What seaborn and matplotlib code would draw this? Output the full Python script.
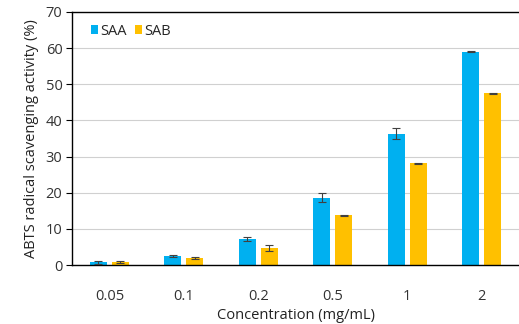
import matplotlib
matplotlib.use("Agg")
import matplotlib.pyplot as plt
import seaborn as sns
import pandas as pd
import numpy as np

concentrations = ["0.05", "0.1", "0.2", "0.5", "1", "2"]
saa_values = [0.8, 2.5, 7.2, 18.6, 36.3, 59.0]
sab_values = [0.9, 1.9, 4.8, 13.8, 28.2, 47.5]
saa_err = [0.4, 0.15, 0.6, 1.2, 1.5, 0.15]
sab_err = [0.2, 0.3, 0.8, 0.15, 0.15, 0.15]
series = ["SAA", "SAB"]
colors = ["#00B0F0", "#FFC000"]

df = pd.DataFrame({
    "Concentration": concentrations * 2,
    "Value": saa_values + sab_values,
    "Series": ["SAA"] * 6 + ["SAB"] * 6,
})
errs = {"SAA": saa_err, "SAB": sab_err}

sns.set_theme(style="white")
plt.rcParams['font.family'] = ['Open Sans', 'DejaVu Sans']

fig = plt.figure(figsize=(5.19, 3.24), dpi=100)
ax = fig.add_axes([0.139, 0.182, 0.861, 0.781])

sns.barplot(data=df, x="Concentration", y="Value", hue="Series",
            order=concentrations, hue_order=series, palette=colors,
            width=0.59, gap=0.22, errorbar=None, ax=ax, saturation=1,
            linewidth=0)

for cont, s in zip(ax.containers, series):
    xs = [p.get_x() + p.get_width() / 2 for p in cont]
    hs = [p.get_height() for p in cont]
    ax.errorbar(xs, hs, yerr=errs[s], fmt="none", ecolor="#404040",
                elinewidth=0.8, capsize=3, capthick=0.8, zorder=5)

ax.set_ylim(0, 70)
ax.set_yticks(range(0, 71, 10))
ax.set_xlim(-0.5, 5.5)
ax.yaxis.grid(True, color="#D0D0D0", linewidth=0.8)
ax.set_axisbelow(True)
for sp in ["left", "bottom", "top"]:
    ax.spines[sp].set_color("black")
    ax.spines[sp].set_linewidth(1.0)
ax.spines["right"].set_visible(False)
fs = 10.5
ax.tick_params(axis="y", left=True, length=4, width=0.8, color="black",
               labelsize=fs, labelcolor="#333333", pad=3)
ax.tick_params(axis="x", bottom=False, labelsize=fs, labelcolor="#333333", pad=11)
ax.set_xlabel("Concentration (mg/mL)", fontsize=fs, color="#222222", labelpad=3)
ax.set_ylabel("ABTS radical scavenging activity (%)", fontsize=fs, color="#222222", labelpad=5)

leg = ax.legend(loc="upper left", bbox_to_anchor=(0.015, 1.0), ncol=2, frameon=False,
                fontsize=fs, handlelength=0.5, handleheight=0.5, handletextpad=0.2,
                columnspacing=0.5, borderaxespad=0.4)

fig.savefig("out.png", dpi=100)
